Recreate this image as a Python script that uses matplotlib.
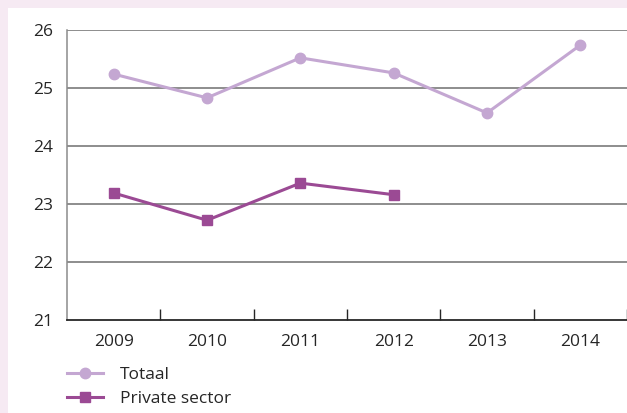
import matplotlib.pyplot as plt
from matplotlib.patches import Rectangle

years = ["2009", "2010", "2011", "2012", "2013", "2014"]
totaal = [25.24, 24.83, 25.52, 25.26, 24.57, 25.74]
private_years = ["2009", "2010", "2011", "2012"]
private_sector = [23.19, 22.72, 23.36, 23.16]
y_ticks = [21, 22, 23, 24, 25, 26]

LIGHT_PURPLE = "#C4A7D2"
DARK_PURPLE = "#9B4A94"
PINK_BG = "#F6EAF3"
GRID = "#6F6F6F"
TEXT = "#262626"

plt.rcParams["font.family"] = ["Open Sans", "DejaVu Sans"]

fig = plt.figure(figsize=(6.27, 4.13), dpi=100, facecolor=PINK_BG)
fig.add_artist(Rectangle((8 / 627, 0), 1, 1 - 8 / 413, transform=fig.transFigure,
                         facecolor="white", edgecolor="none", zorder=-10))

ax = fig.add_axes([67 / 627, 93 / 413, 560 / 627, 290 / 413])
ax.set_facecolor("none")

x_all = list(range(len(years)))
x_priv = [years.index(y) for y in private_years]

ax.plot(x_all, totaal, color=LIGHT_PURPLE, linewidth=2.2, marker="o",
        markersize=7.5, label="Totaal", zorder=3)
ax.plot(x_priv, private_sector, color=DARK_PURPLE, linewidth=2.2, marker="s",
        markersize=7, label="Private sector", zorder=3)

ax.set_xlim(-0.5, len(years) - 0.5)
ax.set_ylim(21, 26)
ax.set_yticks(y_ticks)
ax.set_yticklabels([str(v) for v in y_ticks])
ax.set_xticks(x_all)
ax.set_xticklabels(years)
ax.set_xticks([i + 0.5 for i in x_all], minor=True)

for v in y_ticks[1:]:
    ax.axhline(v, color=GRID, linewidth=1.1, zorder=1)

for side in ("top", "right"):
    ax.spines[side].set_visible(False)
ax.spines["left"].set_color("#8C8C8C")
ax.spines["left"].set_linewidth(1.1)
ax.spines["bottom"].set_color(TEXT)
ax.spines["bottom"].set_linewidth(1.3)

ax.tick_params(axis="y", length=0, pad=10, labelsize=12.5, labelcolor=TEXT)
ax.tick_params(axis="x", which="major", length=0, pad=10, labelsize=12.5, labelcolor=TEXT)
ax.tick_params(axis="x", which="minor", direction="in", length=8, width=1, color=TEXT)

ax.legend(loc="upper left", bbox_to_anchor=(-0.0125, -0.138), frameon=False,
          fontsize=12.5, handlelength=2.1, handletextpad=0.95, labelspacing=0.45,
          borderaxespad=0, labelcolor=TEXT)

fig.savefig("out.png", dpi=100, facecolor=PINK_BG)
